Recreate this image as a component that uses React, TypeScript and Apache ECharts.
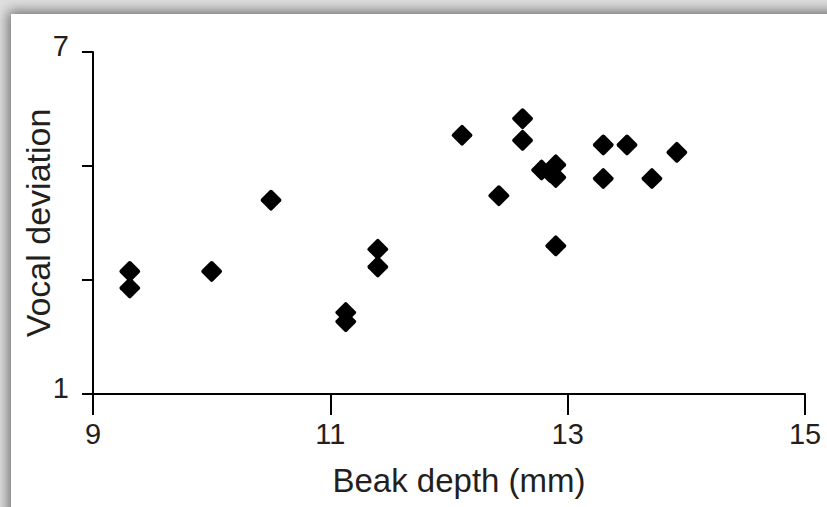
import React, { useEffect, useRef } from "react";
import * as echarts from "echarts";

const beakDepth = [9.31, 9.31, 10.0, 10.5, 11.13, 11.13, 11.4, 11.4, 12.11, 12.42, 12.62, 12.62, 12.78, 12.85, 12.9, 12.9, 12.9, 13.3, 13.3, 13.5, 13.71, 13.92];
const vocalDeviation = [3.15, 2.86, 3.15, 4.4, 2.43, 2.27, 3.54, 3.23, 5.54, 4.48, 5.83, 5.45, 4.93, 4.89, 5.02, 4.8, 3.6, 5.37, 4.78, 5.37, 4.78, 5.24];
const xTicks = [9, 11, 13, 15];
const yTicks = [1, 3, 5, 7];
const yLabels = [1, 7];

const DIAMOND = "path://M44,6 Q50,0 56,6 L94,44 Q100,50 94,56 L56,94 Q50,100 44,94 L6,56 Q0,50 6,44 Z";

export default function App() {
  const ref = useRef<HTMLDivElement>(null);
  useEffect(() => {
    if (!ref.current) return;
    const chart = echarts.init(ref.current, null, { renderer: "svg" });
    const textColor = "#231f20";
    const font = "'Liberation Sans', Arial, Helvetica, sans-serif";
    chart.setOption({
      animation: false,
      grid: { left: 93, right: 22, top: 52, bottom: 113, containLabel: false },
      xAxis: {
        type: "value",
        min: 9,
        max: 15,
        name: "Beak depth (mm)",
        nameLocation: "middle",
        nameGap: 70,
        nameMoveOverlap: false,
        nameTextStyle: { color: textColor, fontSize: 33, fontFamily: font, padding: [0, 0, 0, 20] },
        axisLine: { show: true, onZero: false, lineStyle: { color: "#000", width: 2 } },
        axisTick: { show: true, customValues: xTicks, length: 21, lineStyle: { color: "#000", width: 2 } },
        axisLabel: { customValues: xTicks, color: textColor, fontSize: 29, fontFamily: font, margin: 25 },
        splitLine: { show: false },
      },
      yAxis: {
        type: "value",
        min: 1,
        max: 7,
        name: "Vocal deviation",
        nameLocation: "middle",
        nameGap: 38,
        nameMoveOverlap: false,
        nameTextStyle: { color: textColor, fontSize: 34, fontFamily: font },
        axisLine: { show: true, onZero: false, lineStyle: { color: "#000", width: 2 } },
        axisTick: { show: true, customValues: yTicks, length: 11, lineStyle: { color: "#000", width: 2 } },
        axisLabel: {
          customValues: yLabels,
          color: textColor,
          fontSize: 29,
          fontFamily: font,
          margin: 24,
          lineHeight: 13,
          formatter: (v: number) => `${v}\n`,
        },
        splitLine: { show: false },
      },
      series: [
        {
          type: "scatter",
          symbol: DIAMOND,
          symbolSize: 21,
          itemStyle: { color: "#000", opacity: 1 },
          data: beakDepth.map((x, i) => [x, vocalDeviation[i]]),
        },
      ],
    });
    return () => chart.dispose();
  }, []);
  return (
    <div style={{ position: "fixed", left: 0, top: 0, width: 827, height: 507, background: "#e0e0e0", overflow: "hidden" }}>
      <div style={{ position: "absolute", left: 11, top: 14, width: 900, height: 600, background: "#fff", boxShadow: "0 0 12px 3px rgba(0,0,0,0.5)" }} />
      <div ref={ref} style={{ position: "absolute", left: 0, top: 0, width: 827, height: 507 }} />
    </div>
  );
}
